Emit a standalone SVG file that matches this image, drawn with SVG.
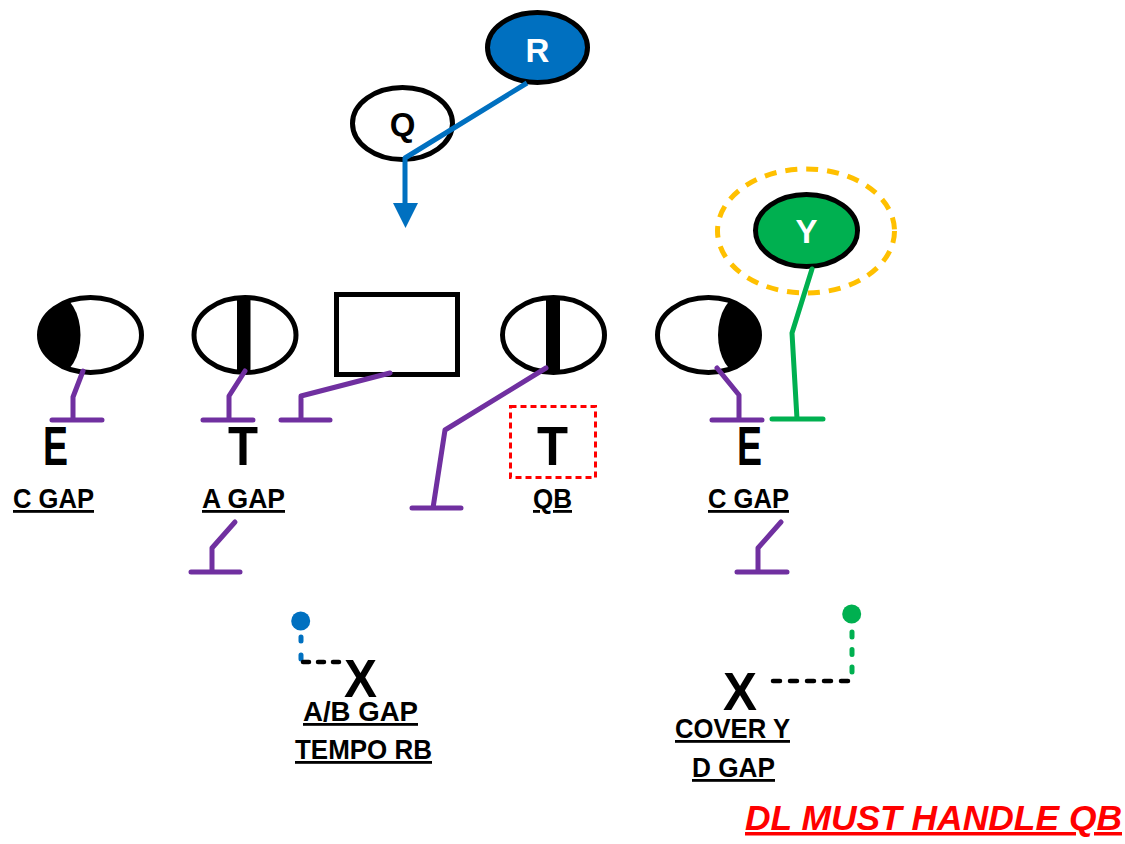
<svg xmlns="http://www.w3.org/2000/svg" width="1125" height="844" viewBox="0 0 1125 844">
<style>
.pl{fill:#fff;stroke:#000;stroke-width:5}
.pu{fill:none;stroke:#7030A0;stroke-width:5;stroke-linecap:round;stroke-linejoin:round}
.gr{fill:none;stroke:#00B050;stroke-width:5;stroke-linecap:round;stroke-linejoin:round}
.bl{fill:none;stroke:#0070C0;stroke-width:5;stroke-linejoin:round}
.big{font-family:"Liberation Sans",Arial,sans-serif;font-weight:bold;font-size:56px;fill:#000}
.lab{font-family:"Liberation Sans",Arial,sans-serif;font-weight:bold;font-size:28px;fill:#000;text-decoration:underline}
.nm{font-family:"Liberation Sans",Arial,sans-serif;font-weight:bold;font-size:33px;text-anchor:middle}
</style>
<defs>
<clipPath id="cE1"><ellipse cx="90.5" cy="335" rx="51" ry="37.5"/></clipPath>
<clipPath id="cE2"><ellipse cx="708.5" cy="335" rx="51" ry="37.5"/></clipPath>
</defs>
<rect width="1125" height="844" fill="#fff"/>

<g id="node-R">
<ellipse cx="537.5" cy="47.5" rx="50" ry="35" fill="#0070C0" stroke="#000" stroke-width="5"/>
<text class="nm" x="537.5" y="62" fill="#fff">R</text>
</g>
<g id="node-Q">
<ellipse cx="402.5" cy="123.5" rx="50" ry="36" class="pl"/>
<text class="nm" x="402.5" y="136" fill="#000">Q</text>
</g>
<g id="node-Y">
<ellipse cx="806" cy="231" rx="88.5" ry="62" fill="none" stroke="#FFC000" stroke-width="5" stroke-dasharray="12 9"/>
<ellipse cx="806.5" cy="230.5" rx="51" ry="36" fill="#00B050" stroke="#000" stroke-width="5"/>
<text class="nm" x="806.5" y="243" fill="#fff">Y</text>
</g>

<g id="node-E-left">
<ellipse cx="90.5" cy="335" rx="51" ry="37.5" fill="#fff"/>
<ellipse cx="56" cy="335" rx="24.5" ry="40" fill="#000" clip-path="url(#cE1)"/>
<ellipse cx="90.5" cy="335" rx="51" ry="37.5" fill="none" stroke="#000" stroke-width="5"/>
<text class="big" x="43" y="465" textLength="25" lengthAdjust="spacingAndGlyphs">E</text>
<text class="lab" x="13" y="508" textLength="81" lengthAdjust="spacingAndGlyphs">C GAP</text>
</g>
<g id="node-T-left">
<ellipse cx="245" cy="335" rx="51" ry="37.5" class="pl"/>
<rect x="237" y="297" width="13.5" height="76" fill="#000"/>
<text class="big" x="228" y="465" textLength="30" lengthAdjust="spacingAndGlyphs">T</text>
<text class="lab" x="202" y="508" textLength="83" lengthAdjust="spacingAndGlyphs">A GAP</text>
</g>
<g id="node-C">
<rect x="336.5" y="294.5" width="121" height="80" class="pl"/>
</g>
<g id="node-T-right">
<ellipse cx="553.5" cy="335" rx="51" ry="37.5" class="pl"/>
<rect x="546" y="297" width="14" height="76" fill="#000"/>
<rect x="510.5" y="406.5" width="85" height="71" fill="none" stroke="#FF0000" stroke-width="3" stroke-dasharray="6 4"/>
<text class="big" x="537" y="465" textLength="31" lengthAdjust="spacingAndGlyphs">T</text>
<text class="lab" x="533" y="508" textLength="39" lengthAdjust="spacingAndGlyphs">QB</text>
</g>
<g id="node-E-right">
<ellipse cx="708.5" cy="335" rx="51" ry="37.5" fill="#fff"/>
<ellipse cx="742.5" cy="335" rx="24.5" ry="40" fill="#000" clip-path="url(#cE2)"/>
<ellipse cx="708.5" cy="335" rx="51" ry="37.5" fill="none" stroke="#000" stroke-width="5"/>
<text class="big" x="737" y="465" textLength="25" lengthAdjust="spacingAndGlyphs">E</text>
<text class="lab" x="708" y="508" textLength="81" lengthAdjust="spacingAndGlyphs">C GAP</text>
</g>

<g id="node-X-left">
<circle cx="300.7" cy="621" r="9.5" fill="#0070C0"/>
<text class="big" x="344" y="697" font-size="54" textLength="33" lengthAdjust="spacingAndGlyphs" style="font-size:54px">X</text>
<text class="lab" x="303" y="721" textLength="115" lengthAdjust="spacingAndGlyphs">A/B GAP</text>
<text class="lab" x="295" y="759" textLength="137" lengthAdjust="spacingAndGlyphs">TEMPO RB</text>
</g>
<g id="node-X-right">
<circle cx="851.7" cy="614" r="9.5" fill="#00B050"/>
<text class="big" x="723" y="710" textLength="34" lengthAdjust="spacingAndGlyphs" style="font-size:54px">X</text>
<text class="lab" x="675" y="738" textLength="115" lengthAdjust="spacingAndGlyphs">COVER Y</text>
<text class="lab" x="692" y="777" textLength="83" lengthAdjust="spacingAndGlyphs">D GAP</text>
</g>

<g id="connectors">
<path class="bl" d="M527 83 L405 158 L405 206"/>
<polygon points="393,203 418,203 405.5,228" fill="#0070C0"/>
<path class="pu" d="M83 371 L73 397 L73 420 M52 420 L102 420"/>
<path class="pu" d="M245 371 L229 396 L229 420 M203 420 L253 420"/>
<path class="pu" d="M390 373 L301 396 L301 420 M281 420 L330 420"/>
<path class="pu" d="M546 368 L445 430 L433 508 M412 508 L461 508"/>
<path class="pu" d="M717 368 L739 395 L739 420 M712 420 L762 420"/>
<path class="gr" d="M812 269 L792 333 L797 419 M772 419 L823 419"/>
<path class="pu" d="M235 522 L212 548 L212 572 M191 572 L240 572"/>
<path class="pu" d="M781 522 L758 548 L758 572 M737 572 L787 572"/>
<path d="M301 637 L301 660" fill="none" stroke="#0070C0" stroke-width="5" stroke-linecap="round" stroke-dasharray="4 14"/>
<path d="M303 662 L343 662" fill="none" stroke="#000" stroke-width="4.5" stroke-linecap="round" stroke-dasharray="6 9"/>
<path d="M852 632 L852 676" fill="none" stroke="#00B050" stroke-width="5" stroke-linecap="round" stroke-dasharray="5 12.5"/>
<path d="M848 681 L766 681" fill="none" stroke="#000" stroke-width="4.5" stroke-linecap="round" stroke-dasharray="7 10"/>
</g>

<text x="745" y="830" textLength="377" lengthAdjust="spacingAndGlyphs" style="font-family:'Liberation Sans',Arial,sans-serif;font-weight:bold;font-style:italic;font-size:35px;fill:#FF0000;text-decoration:underline">DL MUST HANDLE QB</text>
</svg>
